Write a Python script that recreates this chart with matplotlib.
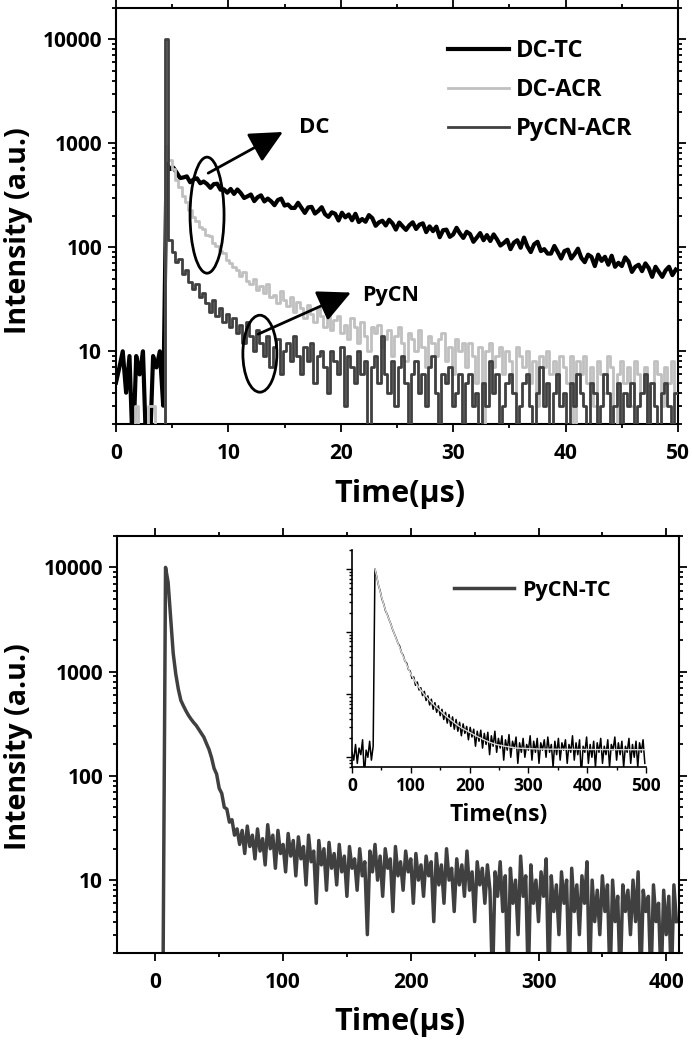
import numpy as np
import matplotlib
matplotlib.use('Agg')
import matplotlib.pyplot as plt
from matplotlib.patches import Ellipse
from matplotlib.ticker import FixedLocator, LogLocator, MultipleLocator, NullFormatter, FuncFormatter

plt.rcParams['font.family'] = ['Open Sans', 'DejaVu Sans']
plt.rcParams['font.weight'] = 'bold'
plt.rcParams['axes.labelweight'] = 'bold'

# ---- top panel: decays on a 0.3 us grid (counts; 1 = empty channel) ----
top_dt = 0.3
dc_tc = [5, 7, 10, 4, 9, 1, 9, 6, 10, 1, 1, 9, 7, 10, 3,
         639, 566, 584, 523, 463, 470, 481, 422, 449, 461,
         413, 429, 406, 373, 405, 409, 358, 361, 335,
         364, 326, 360, 332, 298, 309, 322, 278, 303, 316,
         276, 294, 277, 254, 285, 294, 252, 258, 239,
         239, 268, 239, 214, 242, 245, 211, 224, 243, 208,
         196, 217, 210, 181, 215, 194, 207, 182, 210,
         175, 187, 176, 204, 191, 161, 174, 180, 162, 184,
         170, 148, 173, 159, 147, 163, 174, 150, 165,
         170, 140, 159, 143, 158, 125, 146, 148, 126, 133,
         154, 136, 123, 141, 134, 113, 124, 137, 117,
         131, 115, 133, 119, 104, 110, 118, 96, 111, 117,
         99, 124, 102, 90, 107, 113, 92, 96, 87,
         87, 103, 90, 78, 92, 95, 78, 86, 97, 79,
         72, 85, 81, 66, 85, 74, 81, 68, 83,
         65, 71, 66, 80, 73, 58, 65, 68, 59, 70,
         63, 52, 65, 58, 52, 60, 65, 54, 61]
dc_acr = [1, 1, 1, 1, 1, 1, 3, 1, 1, 1, 3, 3, 1, 1, 1,
          940, 690, 560, 445, 380, 310, 270, 228, 196, 178,
          158, 150, 132, 128, 110, 104, 92, 88, 76, 71,
          64, 60, 53, 58, 47, 44, 50, 39, 42, 36,
          44, 33, 35, 29, 38, 31, 27, 33, 24, 30,
          26, 21, 28, 23, 19, 26, 22, 17, 24, 16,
          20, 22, 15, 18, 13, 21, 17, 12, 19, 14,
          10, 17, 15, 18, 11, 13, 16, 9, 14, 17,
          12, 8, 15, 13, 10, 16, 11, 7, 14, 12,
          9, 13, 15, 8, 11, 6, 13, 10, 12, 7,
          12, 9, 5, 11, 1, 10, 12, 7, 9, 11,
          6, 10, 8, 4, 11, 9, 7, 10, 5, 8,
          3, 9, 7, 10, 6, 8, 4, 9, 7, 5,
          9, 1, 8, 6, 9, 5, 7, 3, 8, 6,
          4, 9, 7, 1, 6, 8, 5, 7, 3, 8,
          6, 4, 7, 1, 5, 8, 6, 3, 7, 5,
          8, 4]
pycn_acr = [1, 1, 1, 1, 1, 1, 1, 1, 1, 1, 1, 1, 1, 1, 1,
            10000, 118, 90, 72, 78, 55, 60, 46, 40, 44,
            33, 36, 29, 24, 31, 22, 26, 19, 23, 17,
            21, 15, 18, 12, 19, 14, 10, 16, 12, 9,
            14, 7, 11, 13, 6, 10, 12, 8, 14, 9,
            6, 11, 8, 12, 5, 9, 10, 7, 4, 10,
            8, 6, 11, 3, 9, 7, 5, 10, 6, 8,
            1, 7, 9, 5, 14, 6, 4, 8, 3, 7,
            9, 5, 1, 6, 8, 4, 6, 3, 7, 9,
            4, 1, 6, 5, 7, 3, 4, 6, 1, 5,
            6, 3, 4, 1, 5, 3, 8, 4, 6, 1,
            3, 5, 6, 4, 1, 3, 5, 6, 3, 1,
            4, 7, 3, 5, 1, 4, 6, 3, 4, 1,
            5, 3, 6, 4, 3, 1, 5, 4, 1, 3,
            6, 4, 1, 3, 5, 1, 4, 3, 5, 1,
            3, 4, 6, 1, 5, 3, 1, 4, 5, 3,
            1, 4]

# ---- bottom panel: PyCN-TC on a 2 us grid ----
bot_dt = 2.0
pycn_tc = [1, 1, 1, 1, 10000, 7200, 3300, 1500, 950, 680,
           530, 470, 420, 380, 350, 325, 305, 280, 258, 235,
           205, 180, 150, 118, 104, 76, 68, 50, 48, 36,
           38, 27, 31, 22, 30,
           18, 33, 21, 27, 16, 31, 19, 25, 14, 34,
           20, 27, 13, 30, 18, 22, 12, 28, 17, 24,
           11, 26, 16, 21, 9, 27, 15, 19, 6, 24,
           14, 20, 8, 23, 13, 18, 9, 22, 12, 17,
           7, 21, 13, 16, 8, 20, 11, 15, 3, 19,
           12, 22, 10, 17, 7, 20, 13, 16, 5, 21,
           11, 15, 8, 19, 12, 16, 6, 18, 10, 14,
           7, 17, 11, 15, 4, 18, 9, 14, 6, 20,
           10, 13, 5, 16, 9, 14, 7, 19, 8, 12,
           4, 15, 9, 13, 6, 14, 8, 1, 12, 7,
           15, 5, 11, 1, 13, 6, 10, 3, 17, 7,
           11, 1, 14, 6, 10, 4, 12, 7, 16, 1,
           11, 5, 9, 3, 12, 6, 10, 1, 13, 5,
           9, 3, 11, 6, 15, 1, 10, 4, 8, 3,
           11, 5, 9, 1, 10, 4, 7, 1, 9, 5,
           8, 3, 10, 4, 12, 1, 8, 5, 7, 1,
           9, 4, 6, 1, 8, 3, 7, 1, 9, 4]

# ---- inset: PyCN-TC on a 3 ns grid, plus fitted curve ----
ins_dt = 3.0
inset_data = [12, 9, 16, 8, 14, 11, 19, 5, 13, 10, 18, 9, 15,
              10000, 7600, 5500, 4400, 3300, 2750, 2150, 1880, 1560, 1330,
              1090, 930, 790, 660, 590, 470, 420, 340, 315, 250,
              235, 180, 190, 140, 158, 118, 128, 96, 112, 80,
              95, 68, 84, 58, 74, 52, 66, 46, 58, 40,
              52, 35, 48, 31, 44, 28, 40, 26, 36, 22,
              34, 24, 31, 19, 30, 21, 28, 15, 26, 18,
              27, 14, 24, 16, 25, 11, 22, 15, 26, 12,
              20, 14, 22, 9, 19, 13, 23, 10, 18, 14,
              21, 8, 17, 12, 20, 10, 16, 13, 22, 9,
              18, 12, 20, 8, 17, 13, 19, 10, 21, 12,
              16, 7, 18, 11, 20, 9, 17, 13, 19, 8,
              16, 12, 22, 9, 17, 11, 19, 5, 15, 12,
              21, 8, 16, 10, 18, 7, 17, 12, 20, 8,
              15, 11, 19, 7, 16, 13, 21, 9, 17, 11,
              18, 7, 15, 12, 20, 8, 16, 10, 18, 7,
              17, 12, 19, 8]
fit_t = [39, 42, 45, 48, 51, 54, 57, 60, 65, 70, 75, 80, 85, 90, 95, 100,
         110, 120, 130, 140, 150, 160, 170, 180, 190, 200, 215, 230, 245,
         260, 280, 320, 400, 498]
fit_v = [10000, 7600, 5600, 4300, 3400, 2700, 2200, 1850, 1400, 1040, 780,
         590, 450, 345, 270, 212, 145, 108, 84, 67, 55, 45, 38, 32, 28, 25,
         21, 18, 16, 15, 14, 13.5, 13.3, 13.2]

black = '#000000'
light = '#c0c0c0'
dark = '#404040'


def style_log_axes(ax, major, minor, size):
    ax.set_yscale('log')
    ax.yaxis.set_major_locator(FixedLocator([10, 100, 1000, 10000]))
    ax.yaxis.set_minor_locator(LogLocator(base=10, subs=np.arange(2, 10)))
    ax.yaxis.set_major_formatter(FuncFormatter(lambda v, p: '%d' % v))
    ax.yaxis.set_minor_formatter(NullFormatter())
    ax.xaxis.set_major_locator(MultipleLocator(major))
    ax.xaxis.set_minor_locator(MultipleLocator(minor))
    ax.tick_params(which='both', direction='out', width=1.3, labelsize=size)
    ax.tick_params(which='major', length=5.5, pad=4.5)
    ax.tick_params(which='minor', length=3)
    ax.tick_params(axis='x', which='major', pad=8)
    for lab in ax.get_xticklabels() + ax.get_yticklabels():
        lab.set_fontweight('bold')
    for s in ax.spines.values():
        s.set_linewidth(1.5)


fig = plt.figure(figsize=(6.92, 10.42), dpi=100)
ax1 = fig.add_axes([116 / 692, 1 - 424 / 1042, 562 / 692, 416 / 1042])
ax2 = fig.add_axes([117 / 692, 1 - 953 / 1042, 562 / 692, 417 / 1042])
axin = fig.add_axes([352 / 692, 1 - 767 / 1042, 294 / 692, 217 / 1042])

# top panel
l1, = ax1.plot(np.arange(len(dc_tc)) * top_dt, dc_tc, color=black, lw=3.0, zorder=2)
l2, = ax1.plot(np.arange(len(dc_acr)) * top_dt, dc_acr, color=light, lw=2.0,
               drawstyle='steps-mid', zorder=3)
l3, = ax1.plot(np.arange(len(pycn_acr)) * top_dt, pycn_acr, color=dark, lw=2.0,
               drawstyle='steps-mid', zorder=4)
style_log_axes(ax1, 10, 5, 15)
ax1.tick_params(which='both', top=True, right=True)
ax1.set_xlim(0, 50)
ax1.set_ylim(2, 20000)
ax1.legend([l1, l2, l3], ['DC-TC', 'DC-ACR', 'PyCN-ACR'], loc='upper left',
           bbox_to_anchor=(0.59, 0.925), frameon=False, fontsize=17,
           handlelength=2.6, handletextpad=0.3, labelspacing=0.64,
           borderpad=0, borderaxespad=0)

ax1.add_patch(Ellipse((0.162, 0.502), 0.0605, 0.279, transform=ax1.transAxes,
                      fill=False, lw=2, color='black', zorder=6))
ax1.add_patch(Ellipse((0.256, 0.169), 0.0605, 0.185, transform=ax1.transAxes,
                      fill=False, lw=2, color='black', zorder=6))
arrow = dict(arrowstyle='-|>,head_length=0.45,head_width=0.22', mutation_scale=45,
             lw=2, color='black', shrinkA=0, shrinkB=0)
ax1.annotate('', xy=(0.297, 0.702), xytext=(0.164, 0.603), xycoords='axes fraction',
             arrowprops=arrow, zorder=7)
ax1.annotate('', xy=(0.418, 0.316), xytext=(0.253, 0.216), xycoords='axes fraction',
             arrowprops=arrow, zorder=7)
ax1.text(0.325, 0.712, 'DC', transform=ax1.transAxes, fontsize=16,
         ha='left', va='center')
ax1.text(0.438, 0.310, 'PyCN', transform=ax1.transAxes, fontsize=15.5,
         ha='left', va='center')

# bottom panel
l4, = ax2.plot(np.arange(len(pycn_tc)) * bot_dt, pycn_tc, color=dark, lw=2.5)
style_log_axes(ax2, 100, 50, 15)
ax2.tick_params(which='both', top=True, right=True)
ax2.set_xlim(-30, 410)
ax2.set_ylim(2, 20000)
ax2.legend([l4], ['PyCN-TC'], loc='upper left', bbox_to_anchor=(0.6, 0.895),
           frameon=False, fontsize=15.5, handlelength=2.8, handletextpad=0.35,
           borderpad=0, borderaxespad=0)

# inset
axin.plot(np.arange(len(inset_data)) * ins_dt, inset_data, color=black, lw=1.1)
axin.plot(fit_t, fit_v, color='#d9d9d9', lw=1.0)
style_log_axes(axin, 100, 50, 12.5)
axin.patch.set_alpha(0)
axin.spines['top'].set_visible(False)
axin.spines['right'].set_visible(False)
for s in axin.spines.values():
    s.set_linewidth(1.2)
axin.tick_params(which='both', width=1.0, labelleft=False)
axin.tick_params(which='major', length=4)
axin.tick_params(axis='x', which='major', pad=3)
axin.tick_params(which='minor', length=2.5)
axin.set_xlim(0, 500)
axin.set_ylim(7, 20000)
axin.set_xlabel('Time(ns)', fontsize=16.5, fontweight='bold', labelpad=6)

# axis titles
fig.text(19 / 692, 1 - 231 / 1042, 'Intensity (a.u.)', rotation=90,
         ha='center', va='center', fontsize=20.5)
fig.text(19 / 692, 1 - 747 / 1042, 'Intensity (a.u.)', rotation=90,
         ha='center', va='center', fontsize=20.5)
fig.text(400 / 692, 1 - 494 / 1042, 'Time(μs)', ha='center', va='center', fontsize=22)
fig.text(400 / 692, 1 - 1022 / 1042, 'Time(μs)', ha='center', va='center', fontsize=22)

fig.savefig('out.png', dpi=100)
